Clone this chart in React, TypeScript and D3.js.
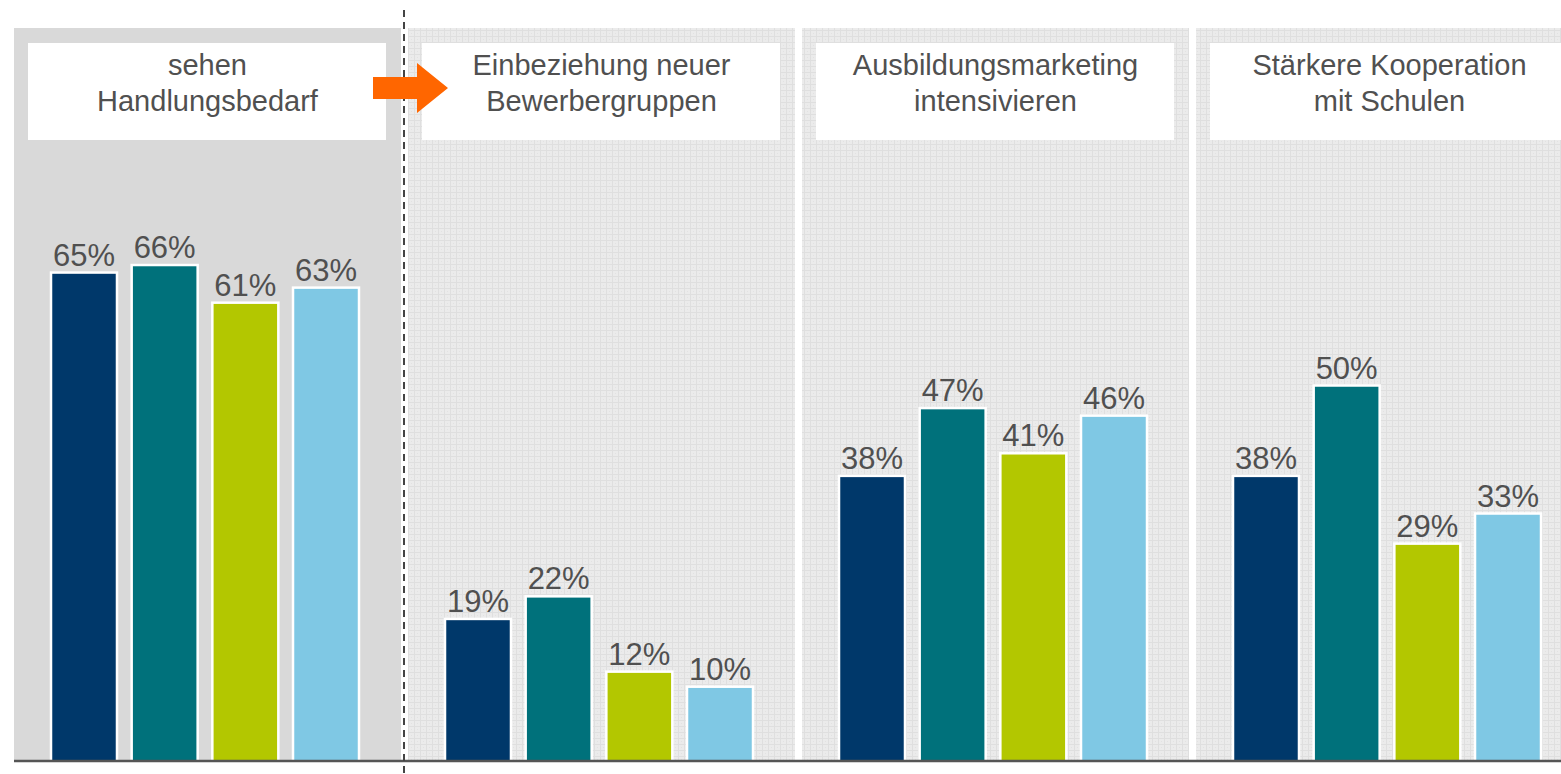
import React from 'react';
import * as d3 from 'd3';

// chart data
const categories = [
  ['sehen', 'Handlungsbedarf'],
  ['Einbeziehung neuer', 'Bewerbergruppen'],
  ['Ausbildungsmarketing', 'intensivieren'],
  ['Stärkere Kooperation', 'mit Schulen'],
];
const seriesKeys = ['s1', 's2', 's3', 's4'];
const seriesColors = ['#00386a', '#00717b', '#b3c700', '#7fc8e4'];
const s1Values = [65, 19, 38, 38];
const s2Values = [66, 22, 47, 50];
const s3Values = [61, 12, 41, 29];
const s4Values = [63, 10, 46, 33];

const seriesValues = [s1Values, s2Values, s3Values, s4Values];

const width = 1561;
const height = 774;
const baseY = 762;
const textColor = '#505050';
const font = '"Liberation Sans", Arial, Helvetica, sans-serif';

export default function App() {
  const catIdx = categories.map((_, i) => String(i));

  // panels
  const x0 = d3.scaleBand().domain(catIdx).range([14, 1583]).paddingInner(7 / 394).paddingOuter(0);
  // bars within a panel
  const x1 = d3.scaleBand().domain(seriesKeys).range([37, 345]).paddingInner(0.182).paddingOuter(0);
  const y = d3.scaleLinear().domain([0, 100]).range([baseY, 9]);

  const panelTop = 28;

  return (
    <svg width={width} height={height} style={{ position: 'absolute', left: 0, top: 0, background: '#fff' }}>
      <defs>
        <pattern id="grid" width="6" height="6" patternUnits="userSpaceOnUse">
          <rect width="6" height="6" fill="#ebebeb" />
          <rect width="6" height="1" fill="#dfdfdf" />
          <rect width="1" height="6" fill="#dfdfdf" />
          <rect x="3" y="3" width="1" height="1" fill="#e2e2e2" />
        </pattern>
      </defs>

      {/* panel backgrounds */}
      {catIdx.map((c, i) => (
        <rect
          key={'bg' + c}
          x={x0(c)}
          y={panelTop}
          width={x0.bandwidth()}
          height={baseY - panelTop}
          fill={i === 0 ? '#d9d9d9' : 'url(#grid)'}
        />
      ))}

      {/* header boxes */}
      {catIdx.map((c, i) => {
        const px = x0(c) as number;
        const cx = px + x0.bandwidth() / 2;
        return (
          <g key={'hd' + c}>
            <rect x={px + 14} y={43} width={x0.bandwidth() - 29} height={97} fill="#fff" />
            {categories[i].map((line, j) => (
              <text
                key={j}
                x={cx}
                y={75 + j * 36}
                textAnchor="middle"
                fontSize={29}
                fontFamily={font}
                fill={textColor}
              >
                {line}
              </text>
            ))}
          </g>
        );
      })}

      {/* bars */}
      {catIdx.map((c, i) => {
        const px = x0(c) as number;
        return (
          <g key={'bars' + c} transform={`translate(${px},0)`}>
            {seriesKeys.map((k, si) => {
              const v = seriesValues[si][i];
              const bx = x1(k) as number;
              return (
                <g key={k}>
                  <rect
                    x={bx}
                    y={y(v)}
                    width={x1.bandwidth()}
                    height={baseY + 1 - y(v)}
                    fill={seriesColors[si]}
                    stroke="#fff"
                    strokeWidth={2.5}
                  />
                  <text
                    x={bx + x1.bandwidth() / 2}
                    y={y(v) - 7}
                    textAnchor="middle"
                    fontSize={31}
                    fontFamily={font}
                    fill={textColor}
                  >
                    {v}%
                  </text>
                </g>
              );
            })}
          </g>
        );
      })}

      {/* baseline */}
      <line x1={14} x2={width} y1={baseY - 1} y2={baseY - 1} stroke="#555" strokeWidth={2.5} />

      {/* dashed separator */}
      <line x1={404} x2={404} y1={10} y2={height} stroke="#444" strokeWidth={2} strokeDasharray="7 5" />

      {/* orange arrow */}
      <path d="M373,77 L417,77 L417,63 L448,88 L417,113 L417,99 L373,99 Z" fill="#ff6600" />
    </svg>
  );
}
